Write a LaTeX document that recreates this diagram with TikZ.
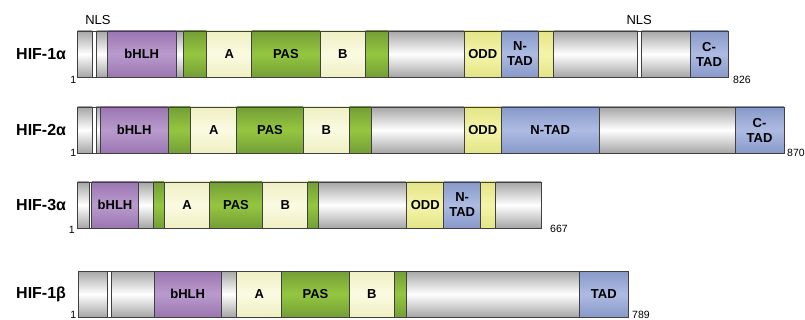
\documentclass[tikz,border=0pt]{standalone}
\usepackage{fontspec}
\setmainfont{Liberation Sans}
\definecolor{grayedge}{HTML}{A6A6A6}
\definecolor{purpedge}{HTML}{9A76B1}
\definecolor{purpmid}{HTML}{BA9BCE}
\definecolor{greenedge}{HTML}{749F36}
\definecolor{greenmid}{HTML}{94C640}
\definecolor{paleedge}{HTML}{EFEFC4}
\definecolor{palemid}{HTML}{FBFBE2}
\definecolor{oddedge}{HTML}{E4E487}
\definecolor{oddmid}{HTML}{F5F5AA}
\definecolor{tadedge}{HTML}{8899C9}
\definecolor{tadmid}{HTML}{AEBCE3}
\tikzset{
  seg/.style={draw=black!75, line width=0.9pt},
  gry/.style={seg, top color=grayedge, bottom color=grayedge, middle color=white},
  wht/.style={seg, fill=white},
  pur/.style={seg, top color=purpedge, bottom color=purpedge, middle color=purpmid},
  grn/.style={seg, top color=greenedge, bottom color=greenedge, middle color=greenmid},
  pal/.style={seg, top color=paleedge, bottom color=paleedge, middle color=palemid},
  odd/.style={seg, top color=oddedge, bottom color=oddedge, middle color=oddmid},
  tad/.style={seg, top color=tadedge, bottom color=tadedge, middle color=tadmid},
  dom/.style={font=\bfseries\fontsize{13}{15}\selectfont, align=center, inner sep=0pt},
  prot/.style={font=\bfseries\fontsize{16}{18}\selectfont, anchor=west, inner sep=0pt},
  num/.style={font=\fontsize{10.5}{12}\selectfont, inner sep=0pt},
  nls/.style={font=\fontsize{13}{15}\selectfont, inner sep=0pt}
}
\begin{document}
\begin{tikzpicture}[x=1pt, y=-1pt]
\useasboundingbox (0,0) rectangle (805,320);
% HIF-1a
\foreach \a/\b/\s in {77.7/92.3/gry, 92.3/96.7/wht, 96.7/107.5/gry, 107.5/176/pur,
  176/183.3/gry, 183.3/206.7/grn, 206.7/251.7/pal, 251.7/320/grn, 320/365.7/pal,
  365.7/388.3/grn, 388.3/464/gry, 464/501.3/odd, 501.3/538.7/tad, 538.7/553.7/odd,
  553.7/637.5/gry, 637.5/641.3/wht, 641.3/690/gry, 690/728/tad}
  \draw[\s] (\a,31) rectangle (\b,77);
\foreach \x/\t [count=\i] in {141.8/bHLH, 229.2/A, 285.9/PAS, 342.9/B, 482.7/ODD,
  520/{N-\\TAD}, 709/{C-\\TAD}}
  \node[dom] (a\i) at (\x,54) {\t};
\node[prot] (hif1a) at (16,54) {HIF-1α};
\node[num, anchor=east] (a1start) at (76.5,79.5) {1};
\node[num, anchor=west] (a1end) at (733,79.5) {826};
\node[nls] (nlsa) at (98,20) {NLS};
\node[nls] (nlsb) at (639.2,20) {NLS};
% HIF-2a
\foreach \a/\b/\s in {77.5/92.3/gry, 92.3/96/wht, 96/100/gry, 100/168.3/pur,
  168.3/190.7/grn, 190.7/236.7/pal, 236.7/303.3/grn, 303.3/349.3/pal,
  349.3/371.7/grn, 371.7/464/gry, 464/501.3/odd, 501.3/599/tad, 599/735/gry,
  735/784/tad}
  \draw[\s] (\a,107) rectangle (\b,153);
\foreach \x/\t [count=\i] in {134.2/bHLH, 213.7/A, 270/PAS, 326.3/B, 482.7/ODD,
  550.2/N-TAD, 759.5/{C-\\TAD}}
  \node[dom] (b\i) at (\x,130) {\t};
\node[prot] (hif2a) at (16,130) {HIF-2α};
\node[num, anchor=east] (b1start) at (76.5,153) {1};
\node[num, anchor=west] (b1end) at (787,153) {870};
% HIF-3a
\foreach \a/\b/\s in {77.7/89/gry, 89/91.7/wht, 91.7/138.2/pur, 138.2/153.6/gry,
  153.6/164.3/grn, 164.3/209.6/pal, 209.6/262.5/grn, 262.5/307.9/pal,
  307.9/318.6/grn, 318.6/406.4/gry, 406.4/443.9/odd, 443.9/480.4/tad,
  480.4/495.7/odd, 495.7/541/gry}
  \draw[\s] (\a,182) rectangle (\b,228);
\foreach \x/\t [count=\i] in {115/bHLH, 187/A, 236/PAS, 285.2/B, 425.2/ODD,
  462.2/{N-\\TAD}}
  \node[dom] (c\i) at (\x,205) {\t};
\node[prot] (hif3a) at (16,205) {HIF-3α};
\node[num, anchor=east] (c1start) at (75,229.5) {1};
\node[num, anchor=west] (c1end) at (550,229) {667};
% HIF-1b
\foreach \a/\b/\s in {78.7/107.7/gry, 107.7/111.7/wht, 111.7/154/gry, 154/221.3/pur,
  221.3/236.7/gry, 236.7/281.7/pal, 281.7/349.3/grn, 349.3/394.3/pal,
  394.3/406/grn, 406/579.3/gry, 579.3/628.3/tad}
  \draw[\s] (\a,271) rectangle (\b,317);
\foreach \x/\t [count=\i] in {187.7/bHLH, 259.2/A, 315.5/PAS, 371.8/B, 603.8/TAD}
  \node[dom] (d\i) at (\x,294) {\t};
\node[prot] (hif1b) at (16,294) {HIF-1β};
\node[num, anchor=east] (d1start) at (76.5,315) {1};
\node[num, anchor=west] (d1end) at (632,315) {789};
\end{tikzpicture}
\end{document}
